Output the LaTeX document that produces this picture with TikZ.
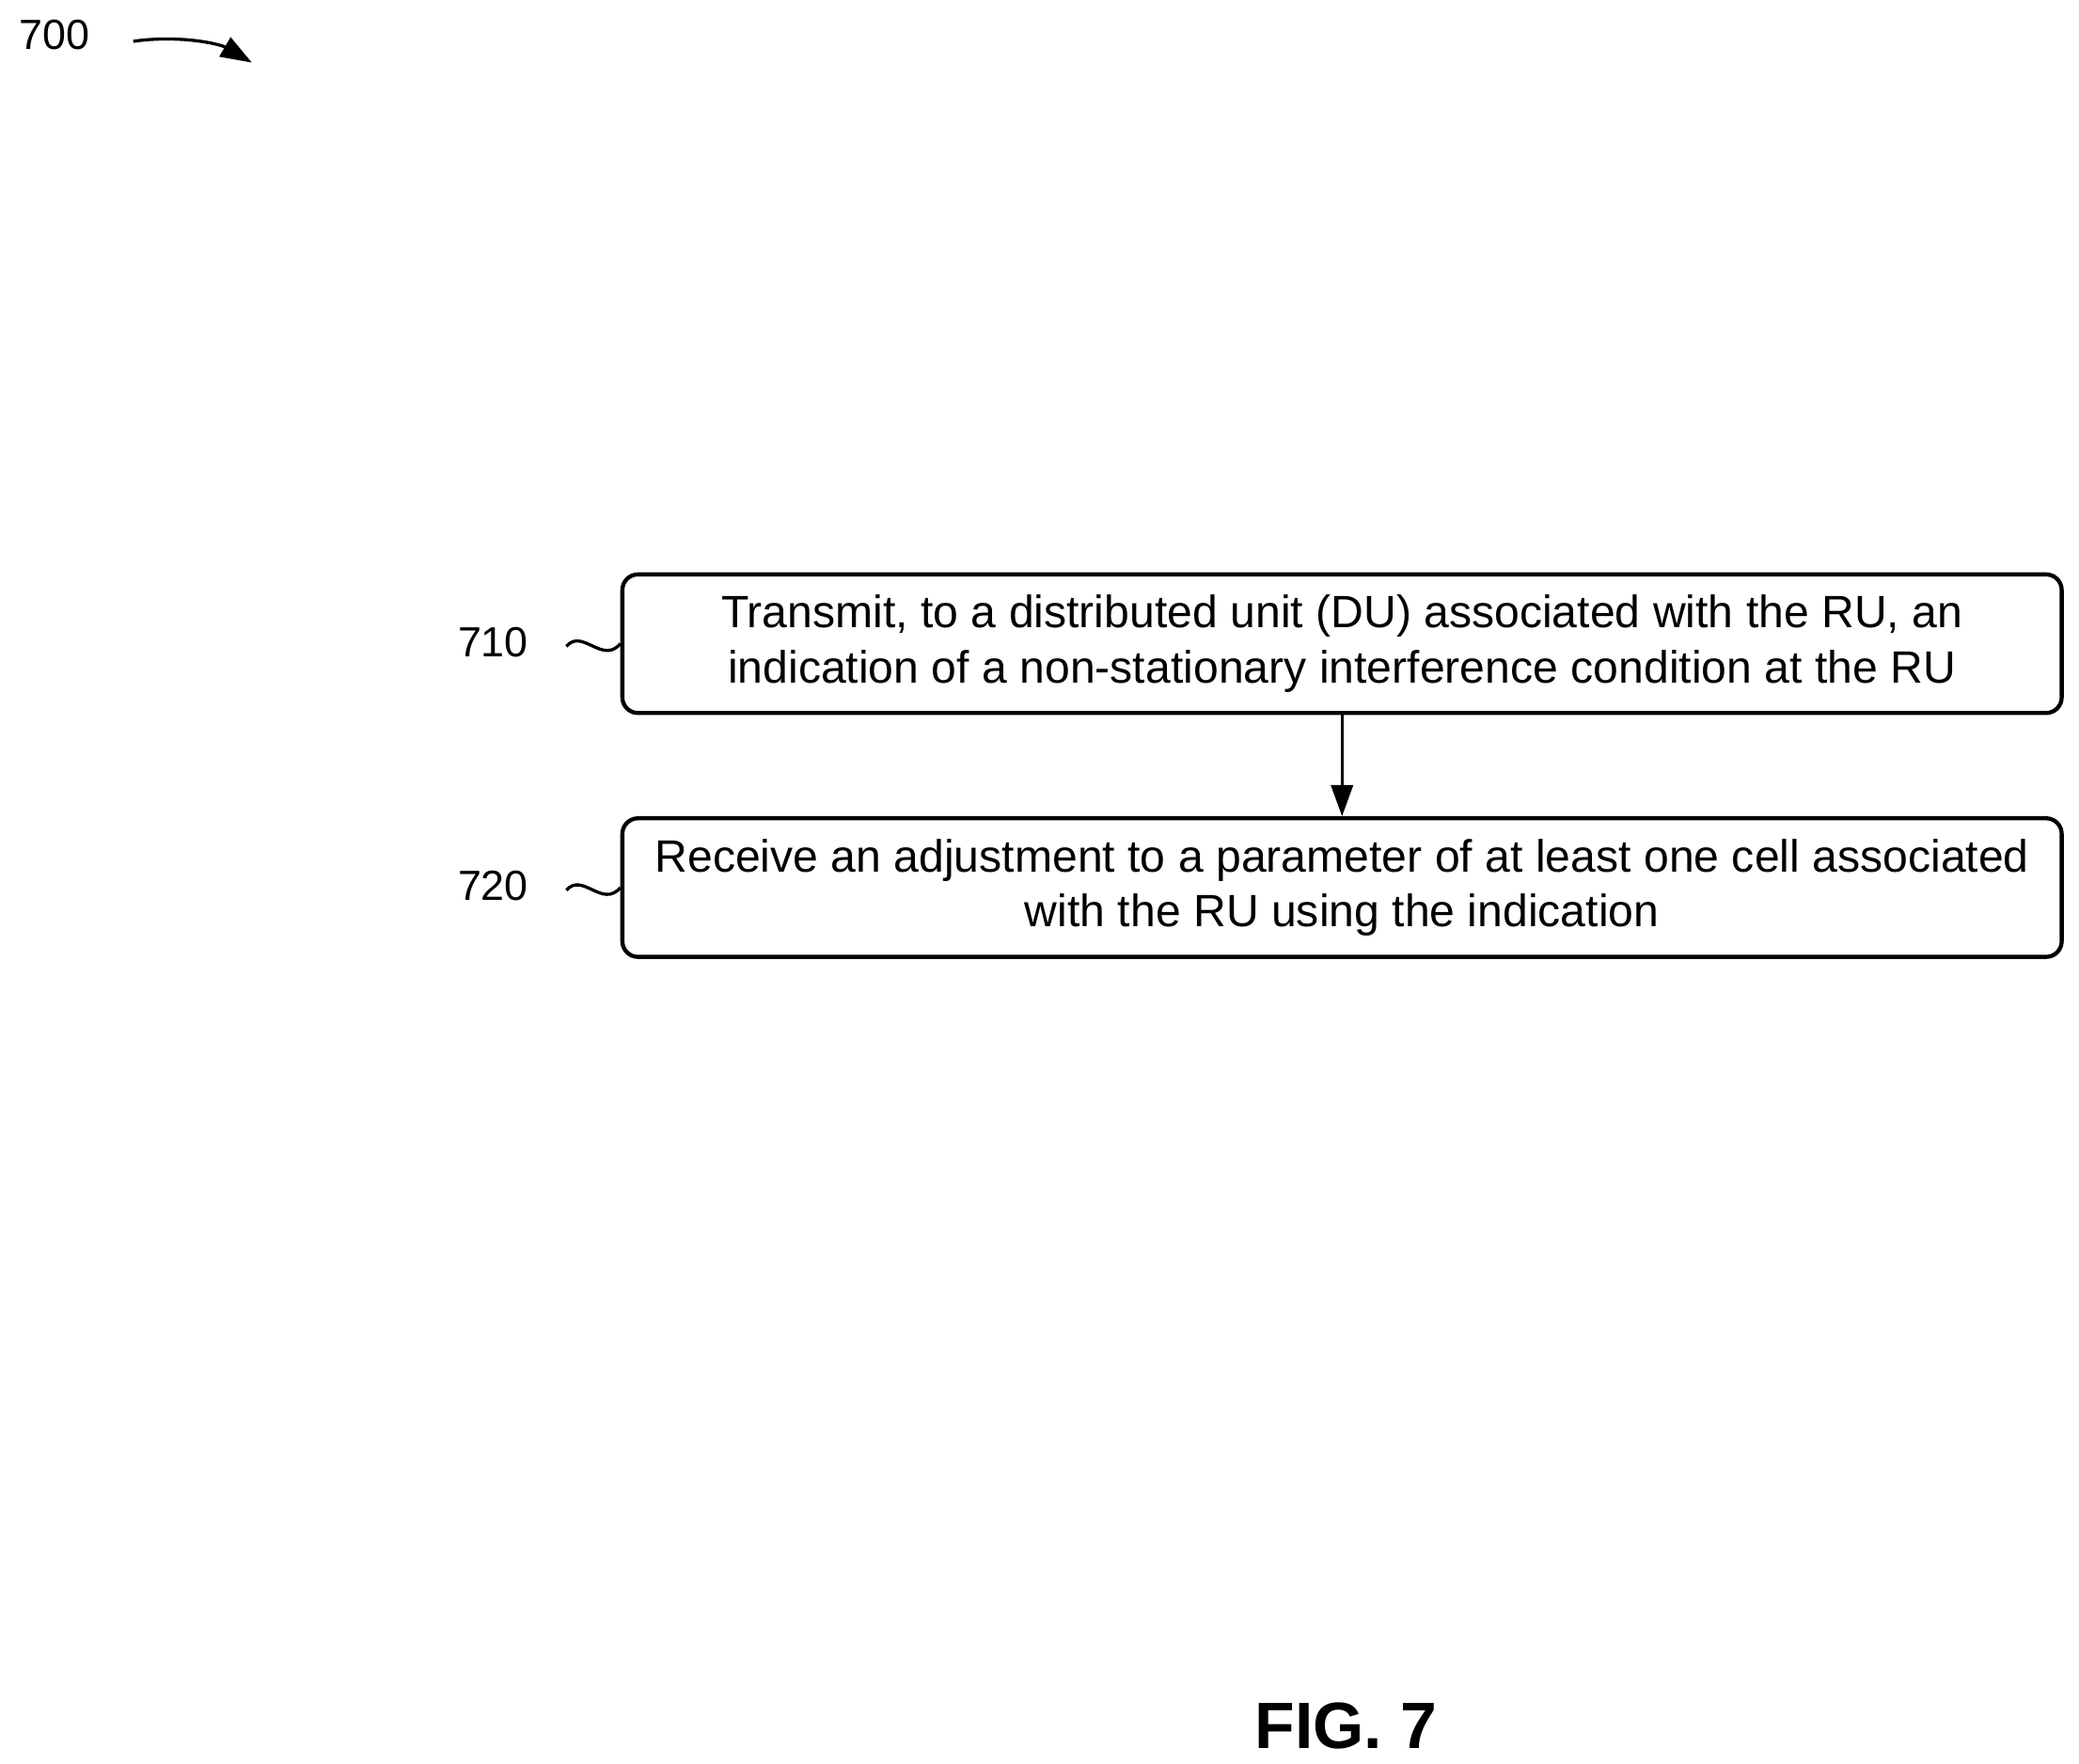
\documentclass[tikz,border=0pt]{standalone}
\usepackage{fontspec}
\setmainfont{Liberation Sans}
\usetikzlibrary{arrows.meta}
\begin{document}
\begin{tikzpicture}[x=0.3mm,y=-0.3mm,
  box/.style={draw,line width=2.6pt,rounded corners=10pt,minimum width=1080*0.3mm,minimum height=104*0.3mm,align=center,font=\fontsize{29}{35}\selectfont,inner sep=0pt},
  lab/.style={font=\fontsize{27}{30}\selectfont},
  sq/.style={line width=2pt}]
\useasboundingbox (0,0) rectangle (1560,1323);
\node[box] (b1) at (1007,483) {Transmit, to a distributed unit (DU) associated with the RU, an\\indication of a non-stationary interference condition at the RU};
\node[box] (b2) at (1007,666) {Receive an adjustment to a parameter of at least one cell associated\\with the RU using the indication};
\draw[line width=2pt,-{Triangle[length=20pt,width=14pt]}] (b1) -- (b2);
\node[lab] (l1) at (370,482) {710};
\node[lab] (l2) at (370,665) {720};
\coordinate (s1) at (425,485);
\coordinate (s2) at (425,668);
\draw[sq] (s1) .. controls (437,471) and (452,499) .. (b1.west);
\draw[sq] (s2) .. controls (437,654) and (452,682) .. (b2.west);
\node[lab] (l0) at (41,26) {700};
\coordinate (a0) at (100,31);
\coordinate (a1) at (189,47);
\draw[line width=2pt,-{Triangle[length=20pt,width=14pt]}] (a0) .. controls (135,26) and (165,33) .. (a1);
\node[font=\bfseries\fontsize{42}{46}\selectfont] (fig) at (1010,1295) {FIG. 7};
\end{tikzpicture}
\end{document}
